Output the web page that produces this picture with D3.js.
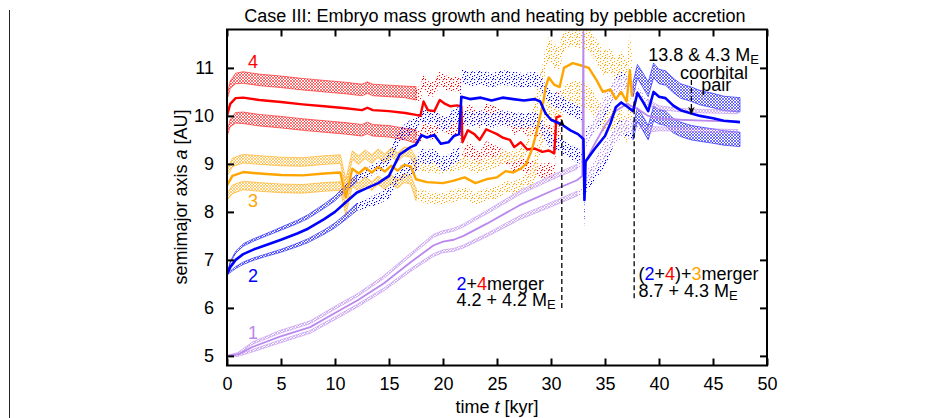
<!DOCTYPE html>
<html>
<head>
<meta charset="utf-8">
<script src="https://cdn.jsdelivr.net/npm/d3@7"></script>
<style>
  body { margin: 0; background: #fff; }
  svg { display: block; font-family: "Liberation Sans", Arial, sans-serif; }
</style>
</head>
<body>
<svg id="chart" width="936" height="418"></svg>
<script>
//#region data
// embryo 4 (red): time [kyr], semimajor axis a [AU], spread a*e, band thickness
const t4 = [0, 0.3, 0.8, 1.5, 3, 5, 7, 9, 11, 12.5, 13, 13.5, 15, 16.5, 17.5, 17.9, 18.2, 18.6, 19.2, 19.7, 20.2, 20.7, 21.3, 21.7, 21.8, 22.3, 22.9, 23.4, 24, 24.4, 25, 25.5, 26.2, 26.6, 27.2, 27.8, 28.5, 29.2, 29.8, 30.3, 30.5, 30.9];
const a4 = [10.0, 10.25, 10.37, 10.38, 10.33, 10.29, 10.24, 10.2, 10.16, 10.12, 10.17, 10.12, 10.1, 10.06, 10.02, 10.0, 10.3, 10.12, 10.1, 10.33, 10.25, 10.2, 10.22, 10.2, 9.45, 9.7, 9.62, 9.5, 9.72, 9.68, 9.62, 9.55, 9.5, 9.35, 9.45, 9.3, 9.32, 9.25, 9.28, 9.22, 9.97, 10.0];
const s4 = [0.38, 0.4, 0.41, 0.42, 0.42, 0.42, 0.42, 0.42, 0.42, 0.42, 0.42, 0.42, 0.42, 0.44, 0.45, 0.45, 0.45, 0.45, 0.45, 0.45, 0.45, 0.45, 0.45, 0.45, 0.4, 0.4, 0.4, 0.4, 0.4, 0.4, 0.4, 0.4, 0.4, 0.4, 0.4, 0.4, 0.4, 0.4, 0.4, 0.4, 0.4, 0.4];
const w4 = [0.1, 0.15, 0.22, 0.24, 0.24, 0.24, 0.24, 0.24, 0.24, 0.24, 0.24, 0.24, 0.24, 0.24, 0.28, 0.3, 0.3, 0.3, 0.3, 0.3, 0.3, 0.3, 0.3, 0.3, 0.3, 0.3, 0.3, 0.3, 0.3, 0.3, 0.3, 0.3, 0.3, 0.3, 0.3, 0.3, 0.3, 0.3, 0.3, 0.3, 0.3, 0.3];

// embryo 3 (orange)
const t3 = [0, 0.5, 1.5, 3, 5, 7, 9, 10.5, 11, 11.6, 12.2, 12.8, 13.4, 14, 14.6, 15.2, 15.8, 16.4, 17, 17.5, 18.5, 20, 21, 22, 23, 24, 25, 25.8, 26.5, 27.2, 27.7, 28.2, 28.6, 29, 29.3, 29.5, 29.8, 30.3, 30.8, 31.2, 32, 32.8, 33.5, 34.2, 34.8, 35.5, 36, 36.5, 37, 37.3, 37.5];
const a3 = [8.55, 8.75, 8.83, 8.8, 8.77, 8.76, 8.8, 8.82, 8.3, 8.9, 8.8, 8.92, 8.82, 8.94, 8.84, 8.96, 8.86, 8.98, 8.95, 8.68, 8.62, 8.6, 8.65, 8.72, 8.6, 8.68, 8.72, 8.85, 8.82, 8.9, 9.0, 9.28, 9.6, 10.0, 10.3, 10.6, 10.8, 10.65, 10.6, 11.0, 11.1, 11.05, 11.0, 10.75, 10.5, 10.55, 10.35, 10.5, 10.3, 10.95, 10.4];
const s3 = [0.25, 0.28, 0.28, 0.28, 0.28, 0.28, 0.28, 0.28, 0.28, 0.28, 0.28, 0.28, 0.28, 0.28, 0.28, 0.28, 0.28, 0.28, 0.28, 0.32, 0.32, 0.32, 0.32, 0.32, 0.32, 0.32, 0.32, 0.32, 0.32, 0.32, 0.32, 0.6, 0.6, 0.6, 0.6, 0.6, 0.6, 0.6, 0.6, 0.6, 0.6, 0.6, 0.6, 0.6, 0.6, 0.6, 0.6, 0.6, 0.6, 0.6, 0.6];
const w3 = [0.12, 0.18, 0.18, 0.18, 0.18, 0.18, 0.18, 0.18, 0.18, 0.18, 0.18, 0.18, 0.18, 0.18, 0.18, 0.18, 0.18, 0.18, 0.18, 0.25, 0.25, 0.25, 0.25, 0.25, 0.25, 0.25, 0.25, 0.25, 0.25, 0.25, 0.25, 0.45, 0.5, 0.5, 0.5, 0.5, 0.5, 0.5, 0.5, 0.5, 0.5, 0.5, 0.5, 0.5, 0.5, 0.5, 0.5, 0.5, 0.5, 0.5, 0.5];

// embryo 2 (blue)
const t2 = [0, 0.3, 0.8, 1.5, 2.5, 3.5, 5, 6.5, 7.5, 9, 10, 11, 12, 13, 14, 15, 16, 17, 17.5, 18, 18.5, 19.2, 19.8, 20.5, 21, 21.5, 21.7, 22.5, 23.5, 24.5, 25.5, 26.5, 27.5, 28.5, 29, 29.5, 30, 31, 31.8, 32.5, 33, 33.1, 33.2, 34, 35, 35.5, 36, 36.5, 37, 37.6, 38, 38.5, 39, 39.5, 40, 40.6, 41.3, 42, 43, 43.8, 45, 46, 47.5];
const a2 = [6.7, 6.85, 7.0, 7.12, 7.22, 7.3, 7.42, 7.55, 7.65, 7.85, 8.0, 8.2, 8.4, 8.5, 8.6, 8.75, 9.2, 9.35, 9.4, 9.6, 9.55, 9.6, 9.42, 9.45, 9.58, 9.62, 10.4, 10.35, 10.38, 10.32, 10.38, 10.35, 10.32, 10.35, 10.3, 10.05, 9.92, 9.82, 9.7, 9.62, 9.52, 8.25, 9.05, 9.3, 9.58, 9.84, 10.18, 10.28, 10.2, 10.1, 10.48, 10.3, 10.1, 10.5, 10.4, 10.37, 10.22, 10.12, 10.05, 10.0, 9.95, 9.9, 9.87];
const s2 = [0, 0.1, 0.16, 0.19, 0.2, 0.21, 0.23, 0.24, 0.25, 0.27, 0.28, 0.3, 0.3, 0.32, 0.33, 0.35, 0.4, 0.42, 0.42, 0.42, 0.42, 0.42, 0.42, 0.42, 0.42, 0.42, 0.42, 0.42, 0.42, 0.42, 0.42, 0.42, 0.42, 0.42, 0.42, 0.45, 0.45, 0.45, 0.45, 0.45, 0.45, 0.45, 0.5, 0.5, 0.5, 0.5, 0.5, 0.5, 0.5, 0.45, 0.45, 0.45, 0.45, 0.45, 0.42, 0.42, 0.42, 0.4, 0.4, 0.38, 0.37, 0.36, 0.36];
const w2 = [0.02, 0.03, 0.04, 0.05, 0.05, 0.05, 0.06, 0.07, 0.08, 0.09, 0.1, 0.12, 0.15, 0.2, 0.22, 0.25, 0.3, 0.3, 0.3, 0.3, 0.3, 0.3, 0.3, 0.3, 0.3, 0.3, 0.3, 0.3, 0.3, 0.3, 0.3, 0.3, 0.3, 0.3, 0.3, 0.3, 0.3, 0.3, 0.3, 0.3, 0.3, 0.3, 0.3, 0.3, 0.3, 0.3, 0.3, 0.3, 0.3, 0.3, 0.28, 0.3, 0.3, 0.3, 0.3, 0.3, 0.3, 0.3, 0.3, 0.3, 0.3, 0.3, 0.3];

// embryo 1 (purple)
const t1 = [0, 1, 2.4, 4.9, 7.7, 10.2, 12.1, 14.5, 17, 19.1, 20, 21, 21.9, 24.1, 27.1, 30.2, 32.4, 32.9, 33.0, 33.05, 33.1, 34, 35, 36, 37, 38, 39, 40, 42, 44, 47.3];
const a1 = [5.0, 5.03, 5.19, 5.4, 5.6, 5.92, 6.16, 6.51, 6.95, 7.3, 7.38, 7.42, 7.5, 7.76, 8.14, 8.45, 8.66, 8.75, 11.75, 8.25, 9.0, 9.4, 9.8, 10.1, 10.25, 10.15, 10.0, 9.95, 9.92, 9.9, 9.88];
const s1 = [0, 0.02, 0.08, 0.1, 0.1, 0.11, 0.11, 0.13, 0.16, 0.2, 0.2, 0.21, 0.22, 0.24, 0.26, 0.28, 0.28, 0.3, 0.3, 0.3, 0.35, 0.45, 0.5, 0.5, 0.45, 0.35, 0.28, 0.22, 0.2, 0.2, 0.2];
const w1 = [0.02, 0.04, 0.05, 0.06, 0.06, 0.06, 0.06, 0.06, 0.06, 0.06, 0.06, 0.06, 0.06, 0.07, 0.08, 0.09, 0.1, 0.15, 0.2, 0.2, 0.25, 0.3, 0.35, 0.35, 0.3, 0.2, 0.12, 0.08, 0.07, 0.07, 0.07];

// scattered (chaotic) phase of each embryo, [start, end] in kyr
const chaos4 = [17.5, 60];
const chaos3 = [17.5, 60];
const chaos2 = [12, 37.6];
const chaos1 = [32.4, 39];

const xTicks = [0, 5, 10, 15, 20, 25, 30, 35, 40, 45, 50];
const yTicks = [5, 6, 7, 8, 9, 10, 11];

// dashed markers: time, from a, to a
const markT = [31.0, 37.7, 43.0];
const markFrom = [6.0, 6.2, 10.75];
const markTo = [9.92, 10.3, 10.04];
//#endregion

//#region setup
const width = 936, height = 418;
const x = d3.scaleLinear().domain([0, 50]).range([227, 767]);
const y = d3.scaleLinear().domain([4.8, 11.8]).range([365.5, 29.5]);

const bodies = [
    {id: 4, color: '#ff0000', t: t4, a: a4, s: s4, w: w4, chaos: chaos4, lw: 2.4},
    {id: 3, color: '#ffa500', t: t3, a: a3, s: s3, w: w3, chaos: chaos3, lw: 2.4},
    {id: 2, color: '#0000ff', t: t2, a: a2, s: s2, w: w2, chaos: chaos2, lw: 2.6},
    {id: 1, color: '#bb88ee', t: t1, a: a1, s: s1, w: w1, chaos: chaos1, lw: 1.8}
];
bodies.forEach(b => b.rows = b.t.map((tt, i) => ({t: tt, a: b.a[i], s: b.s[i], w: b.w[i]})));

let svg = d3.select('#chart');
let defs = svg.append('defs');

defs.append('clipPath').attr('id', 'plot-clip')
    .append('rect')
    .attr('x', x(0)).attr('y', y(11.8))
    .attr('width', x(50) - x(0)).attr('height', y(4.8) - y(11.8));

bodies.forEach(b => {
    let hatch = defs.append('pattern').attr('id', 'hatch' + b.id)
        .attr('width', 3).attr('height', 3)
        .attr('patternUnits', 'userSpaceOnUse');
    hatch.append('path').attr('d', 'M0,0L3,3M3,0L0,3')
        .attr('stroke', b.color).attr('stroke-width', 0.55).attr('fill', 'none');

    let dots = defs.append('pattern').attr('id', 'dots' + b.id)
        .attr('width', 7).attr('height', 7)
        .attr('patternUnits', 'userSpaceOnUse');
    [[0, 0], [3, 1], [1, 4], [5, 5], [2, 2], [5, 2], [3, 6]].forEach(p => {
        dots.append('rect').attr('x', p[0]).attr('y', p[1])
            .attr('width', 1.1).attr('height', 1.1).attr('fill', b.color);
    });
});

defs.append('marker').attr('id', 'arrow')
    .attr('viewBox', '0 0 10 10').attr('refX', 9).attr('refY', 5)
    .attr('markerWidth', 8).attr('markerHeight', 8)
    .attr('markerUnits', 'userSpaceOnUse')
    .attr('orient', 'auto')
    .append('path').attr('d', 'M0,1L10,5L0,9L3,5z').attr('fill', '#000');
//#endregion

//#region page border
svg.append('line')
    .attr('x1', 9.5).attr('x2', 9.5).attr('y1', 10).attr('y2', height)
    .attr('stroke', '#222').attr('stroke-width', 1);
//#endregion

//#region curves
let plot = svg.append('g').attr('clip-path', 'url(#plot-clip)');

// eccentricity bands first
bodies.forEach(b => {
    [1, -1].forEach(sign => {
        let band = d3.area()
            .x(d => x(d.t))
            .y0(d => y(d.a + sign * d.s - d.w / 2))
            .y1(d => y(d.a + sign * d.s + d.w / 2));

        plot.append('path')
            .datum(b.rows)
            .attr('d', band.defined(d => d.t <= b.chaos[0] || d.t >= b.chaos[1]))
            .attr('fill', 'url(#hatch' + b.id + ')')
            .attr('stroke', b.color).attr('stroke-width', 0.7).attr('stroke-opacity', 0.8);

        plot.append('path')
            .datum(b.rows)
            .attr('d', band.defined(d => d.t >= b.chaos[0] && d.t <= b.chaos[1]))
            .attr('fill', 'url(#dots' + b.id + ')');
    });
});

// semimajor axis
let line = d3.line().x(d => x(d.t)).y(d => y(d.a));
[bodies[0], bodies[1], bodies[3], bodies[2]].forEach(b => {
    plot.append('path')
        .datum(b.rows)
        .attr('d', line)
        .attr('fill', 'none')
        .attr('stroke', b.color)
        .attr('stroke-width', b.lw)
        .attr('stroke-linejoin', 'round');
});
//#endregion

//#region Axis
function styleAxis(g) {
    g.select('.domain').remove();
    g.selectAll('.tick line').attr('stroke', '#000').attr('stroke-width', 2);
    g.selectAll('.tick text').attr('fill', '#000')
        .attr('font-size', 18).attr('font-family', '"Liberation Sans", Arial, sans-serif');
}

svg.append('g')
    .attr('transform', `translate(0, ${y(4.8)})`)
    .call(d3.axisBottom(x).tickValues(xTicks).tickFormat(d3.format('d'))
        .tickSizeInner(-7).tickSizeOuter(0).tickPadding(12))
    .call(styleAxis);

svg.append('g')
    .attr('transform', `translate(0, ${y(11.8)})`)
    .call(d3.axisTop(x).tickValues(xTicks).tickSizeInner(-7).tickSizeOuter(0).tickFormat(''))
    .call(styleAxis);

svg.append('g')
    .attr('transform', `translate(${x(0)}, 0)`)
    .call(d3.axisLeft(y).tickValues(yTicks).tickFormat(d3.format('d'))
        .tickSizeInner(-7).tickSizeOuter(0).tickPadding(13))
    .call(styleAxis);

svg.append('g')
    .attr('transform', `translate(${x(50)}, 0)`)
    .call(d3.axisRight(y).tickValues(yTicks).tickSizeInner(-7).tickSizeOuter(0).tickFormat(''))
    .call(styleAxis);

svg.append('rect')
    .attr('x', x(0)).attr('y', y(11.8))
    .attr('width', x(50) - x(0)).attr('height', y(4.8) - y(11.8))
    .attr('fill', 'none').attr('stroke', '#000').attr('stroke-width', 2);
//#endregion

//#region labels
svg.append('text')
    .attr('x', 495).attr('y', 22)
    .attr('text-anchor', 'middle').attr('font-size', 18)
    .text('Case III: Embryo mass growth and heating by pebble accretion');

let yLabel = svg.append('text')
    .attr('transform', 'translate(187, 197) rotate(-90)')
    .attr('text-anchor', 'middle').attr('font-size', 18);
yLabel.append('tspan').text('semimajor axis ');
yLabel.append('tspan').attr('font-style', 'italic').text('a');
yLabel.append('tspan').text(' [AU]');

let xLabel = svg.append('text')
    .attr('x', 497).attr('y', 413)
    .attr('text-anchor', 'middle').attr('font-size', 18);
xLabel.append('tspan').text('time ');
xLabel.append('tspan').attr('font-style', 'italic').text('t');
xLabel.append('tspan').text(' [kyr]');
//#endregion

//#region annotations
let notes = svg.append('g').attr('font-size', 18);

// embryo numbers
[[4, 2.4, 11.0], [3, 2.4, 8.1], [2, 2.4, 6.53], [1, 2.4, 5.36]].forEach(n => {
    let b = bodies.find(d => d.id === n[0]);
    notes.append('text')
        .attr('x', x(n[1])).attr('y', y(n[2]))
        .attr('text-anchor', 'middle').attr('fill', b.color)
        .text(n[0]);
});

// dashed marker lines
markT.forEach((tt, i) => {
    let l = notes.append('line')
        .attr('x1', x(tt)).attr('x2', x(tt))
        .attr('y1', y(markFrom[i])).attr('y2', y(markTo[i]))
        .attr('stroke', '#000').attr('stroke-width', 1.3)
        .attr('stroke-dasharray', '5,3');
    if (i !== 1) l.attr('marker-end', 'url(#arrow)');
});

// one text per line, colours through tspans
function colored(sel, parts) {
    parts.forEach(p => sel.append('tspan').attr('fill', p[1] || '#000').text(p[0]));
}
function massText(sel, str) {
    sel.append('tspan').text(str);
    sel.append('tspan').text('E').attr('font-size', 13).attr('dy', 3);
}

let blue = bodies[2].color, red = bodies[0].color, orange = bodies[1].color;

let m1 = notes.append('text').attr('x', x(21.25)).attr('y', y(6.37));
colored(m1, [['2', blue], ['+'], ['4', red], ['merger']]);
let m1b = notes.append('text').attr('x', x(21.25)).attr('y', y(6.05));
massText(m1b, '4.2 + 4.2 M');

let m2 = notes.append('text').attr('x', x(38.1)).attr('y', y(6.58));
colored(m2, [['('], ['2', blue], ['+'], ['4', red], [')+'], ['3', orange], ['merger']]);
let m2b = notes.append('text').attr('x', x(38.1)).attr('y', y(6.23));
massText(m2b, '8.7 + 4.3 M');

let c1 = notes.append('text').attr('x', x(39.0)).attr('y', y(11.14));
massText(c1, '13.8 & 4.3 M');
notes.append('text').attr('x', x(45.1)).attr('y', y(10.76))
    .attr('text-anchor', 'middle').text('coorbital');
notes.append('text').attr('x', x(45.3)).attr('y', y(10.52))
    .attr('text-anchor', 'middle').text('pair');
//#endregion
</script>
</body>
</html>
